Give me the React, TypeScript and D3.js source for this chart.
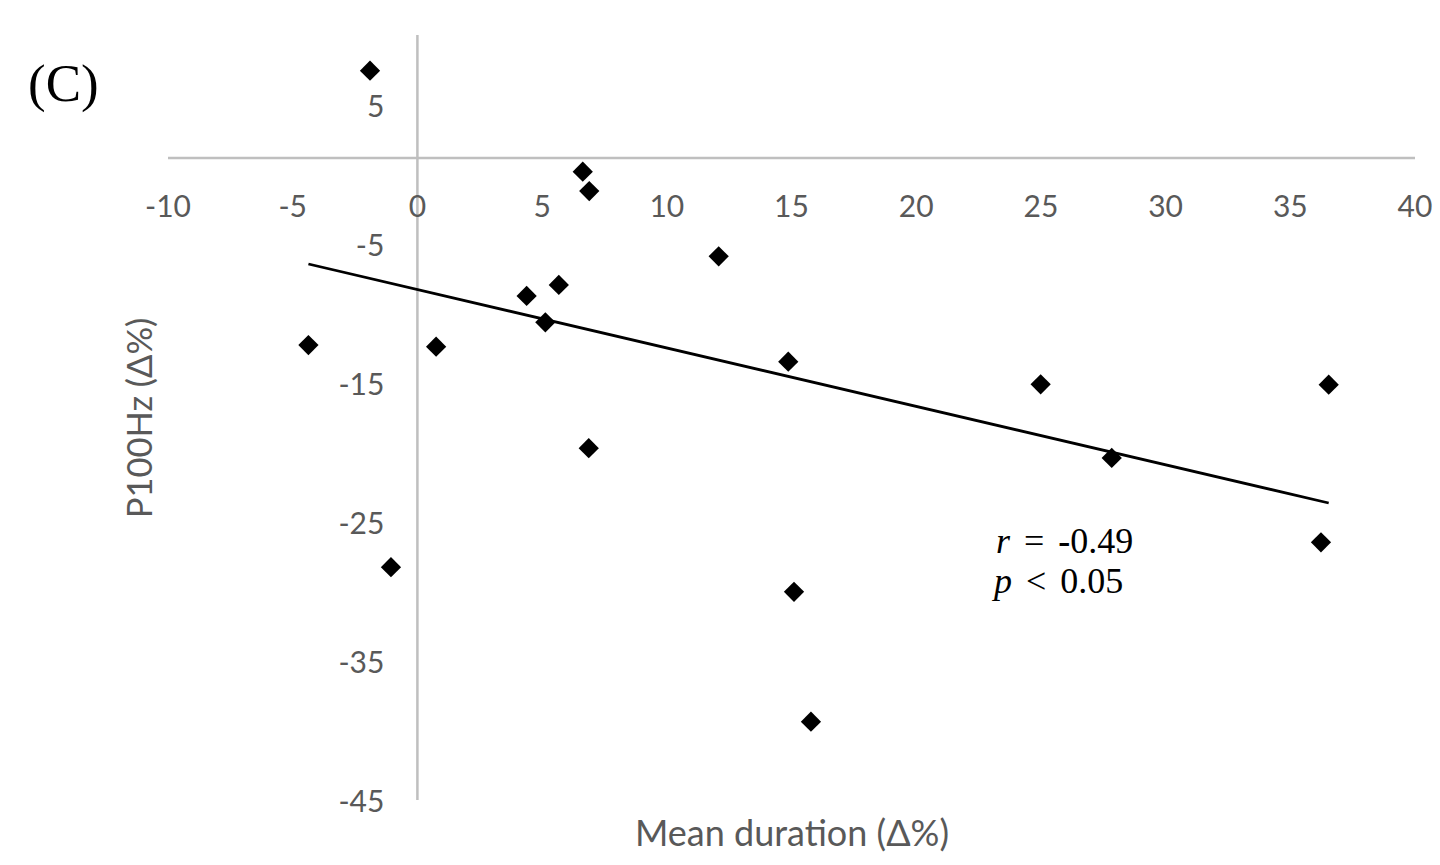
import React from 'react';
import * as d3 from 'd3';

// Data
const meanDuration = [-1.90, 6.63, 6.89, 12.08, 5.67, 4.38, 5.13, -4.37, 0.75, 14.87, 24.99, 36.54, 6.87, 27.84, 36.23, -1.06, 15.10, 15.78];
const p100Hz = [7.43, 0.17, -1.22, -5.91, -7.97, -8.76, -10.66, -12.29, -12.41, -13.49, -15.11, -15.14, -19.71, -20.41, -26.47, -28.26, -30.03, -39.37];

const xTicks = [-10, -5, 0, 5, 10, 15, 20, 25, 30, 35, 40];
const yTicks = [5, -5, -15, -25, -35, -45];

const xDomain = [-10, 40];
const yDomain = [-45, 10];
const xAxisCrossesAt = 1.16;

const trendIntercept = -8.3;
const trendSlope = -0.42;

const panelLabel = '(C)';
const xTitle = 'Mean duration (Δ%)';
const yTitle = 'P100Hz (Δ%)';

const axisColor = '#bfbfbf';
const textGray = '#595959';
const sansFont = 'Lato, "Open Sans", sans-serif';
const serifFont = '"Liberation Serif", "DejaVu Serif", serif';

export default function App() {
  const width = 1440;
  const height = 865;
  const x = d3.scaleLinear().domain(xDomain).range([168, 1415]);
  const y = d3.scaleLinear().domain(yDomain).range([800, 35]);

  const points = meanDuration.map((v, i) => ({ x: v, y: p100Hz[i] }));
  const [xMin, xMax] = d3.extent(meanDuration) as [number, number];
  const trendPts: [number, number][] = [xMin, xMax].map((v) => [x(v), y(trendIntercept + trendSlope * v)]);
  const line = d3.line();
  const diamond = d3.symbol(d3.symbolSquare, 205)();

  const axisY = y(xAxisCrossesAt);
  const axisX = x(0);

  return (
    <div style={{ position: 'absolute', left: 0, top: 0, width, height, background: '#fff' }}>
      <svg width={width} height={height} style={{ display: 'block' }}>
        <rect width={width} height={height} fill="#ffffff" />
        {/* axes */}
        <line x1={x(xDomain[0])} x2={x(xDomain[1])} y1={axisY} y2={axisY} stroke={axisColor} strokeWidth={2.5} />
        <line x1={axisX} x2={axisX} y1={y(yDomain[1])} y2={y(yDomain[0])} stroke={axisColor} strokeWidth={2.5} />
        {/* x tick labels */}
        {xTicks.map((t) => (
          <text key={'xt' + t} x={x(t)} y={axisY + 59} textAnchor="middle" fontFamily={sansFont} fontSize={30} fill={textGray}>
            {t}
          </text>
        ))}
        {/* y tick labels */}
        {yTicks.map((t) => (
          <text key={'yt' + t} x={axisX - 33} y={y(t) + 12} textAnchor="end" fontFamily={sansFont} fontSize={30} fill={textGray}>
            {t}
          </text>
        ))}
        {/* axis titles */}
        <text x={792} y={846} textAnchor="middle" fontFamily={sansFont} fontSize={36} fill={textGray}>
          {xTitle}
        </text>
        <text transform="translate(152,418) rotate(-90)" textAnchor="middle" fontFamily={sansFont} fontSize={34.5} fill={textGray}>
          {yTitle}
        </text>
        {/* trend line */}
        <path d={line(trendPts) || ''} stroke="#000" strokeWidth={2.8} fill="none" />
        {/* points */}
        {points.map((p, i) => (
          <path key={'p' + i} d={diamond || ''} transform={`translate(${x(p.x)},${y(p.y)}) rotate(45)`} fill="#000" />
        ))}
        {/* panel label */}
        <text x={28} y={101} fontFamily={serifFont} fontSize={53} fill="#000">
          {panelLabel}
        </text>
        {/* stats annotation */}
        <text x={996} y={553} fontFamily={serifFont} fontSize={36} fill="#000" wordSpacing={5}>
          <tspan fontStyle="italic">r</tspan>
          <tspan> = </tspan>
          <tspan fontWeight="bold">-</tspan>
          <tspan>0.49</tspan>
        </text>
        <text x={994} y={593} fontFamily={serifFont} fontSize={36} fill="#000" wordSpacing={5}>
          <tspan fontStyle="italic">p</tspan>
          <tspan> &lt; 0.05</tspan>
        </text>
      </svg>
    </div>
  );
}
